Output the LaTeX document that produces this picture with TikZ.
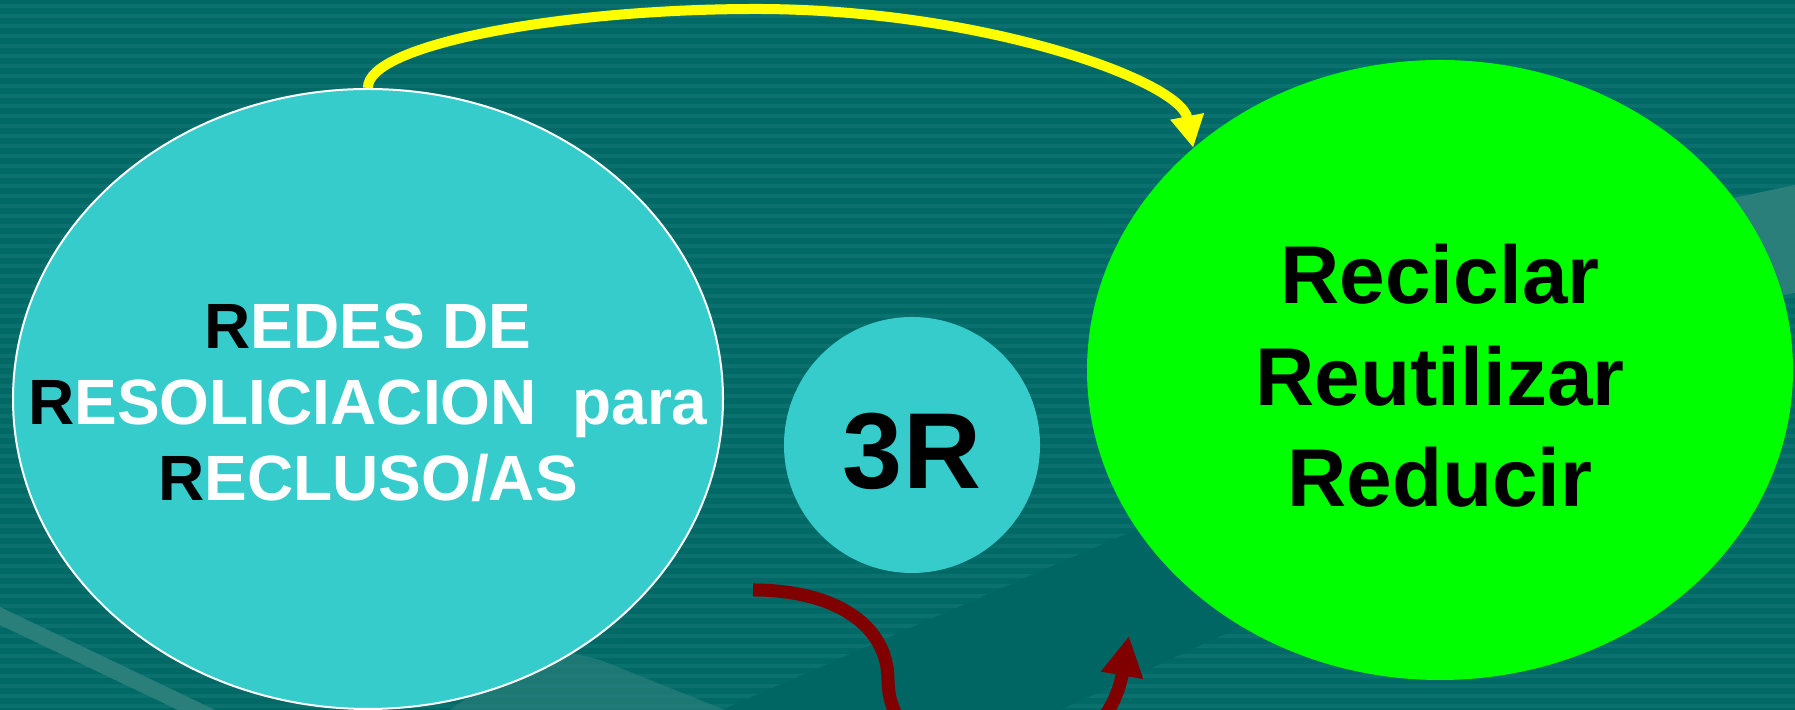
\documentclass[tikz,border=0pt]{standalone}
\usepackage{fontspec}
\setmainfont{Liberation Sans}
\usetikzlibrary{shapes.geometric}
\usetikzlibrary{arrows.meta}
\usetikzlibrary{calc}

\definecolor{fondo}{HTML}{006966}
\definecolor{fondooscuro}{HTML}{006664}
\definecolor{raya}{HTML}{0A716E}
\definecolor{claro}{HTML}{2A7F7B}
\definecolor{turquesa}{HTML}{36CCCC}
\definecolor{verde}{HTML}{00FF00}
\definecolor{granate}{HTML}{800000}
\definecolor{amarillo}{HTML}{FFFF00}

\newcommand{\Rnegra}{\textcolor{black}{R}}

\begin{document}
\begin{tikzpicture}[x=0.5pt,y=0.5pt]
        \tikzstyle{burbuja}=[ellipse, fill=turquesa, inner sep=0pt]
        \tikzstyle{texto}=[align=center, inner sep=0pt, font=\bfseries]
        \tikzstyle{flechaamarilla}=[draw=amarillo, line width=5pt, -{Triangle[width=16pt,length=16pt]}, amarillo]
        \tikzstyle{flechagranate}=[draw=granate, line width=6.5pt, -{Triangle[width=20pt,length=20pt]}, granate]
        \useasboundingbox (0,0) rectangle (1795,710);
        \clip (0,0) rectangle (1795,710);
        % fondo con rayas
        \fill[fondo] (0,0) rectangle (1795,710);
        \foreach \y in {2,12,...,702} \fill[raya] (0,\y) rectangle (1795,\y+4);
        \fill[fondooscuro] (722,0) -- (1450,317) -- (1500,203) -- (1060,0) -- cycle;
        \fill[claro] (0,103) -- (215,0) -- (178,0) -- (0,85) -- cycle;
        \fill[claro, opacity=.7] (540,65) -- (600,50) -- (725,0) -- (450,0) -- cycle;
        \fill[claro] (1700,505) -- (1795,525) -- (1795,417) -- (1700,400) -- cycle;
        % nodos
        \node[burbuja, draw=white, line width=1pt, minimum width=355pt, minimum height=310pt] (redes) at (368,311) {};
        \node[burbuja, minimum width=128pt, minimum height=128pt] (tresr) at (912,265) {};
        \node[ellipse, fill=verde, inner sep=0pt, minimum width=353pt, minimum height=310pt] (reciclar) at (1440,340) {};
        \node[texto, yshift=-2pt, text=white, font=\bfseries\fontsize{32}{38}\selectfont] at (redes) {\Rnegra EDES DE\\ \Rnegra ESOLICIACION\ \ para\\ \Rnegra ECLUSO/AS};
        \node[texto, yshift=-3pt, font=\bfseries\fontsize{54}{60}\selectfont] at (tresr) {3R};
        \node[texto, yshift=-3pt, font=\bfseries\fontsize{41}{50.7}\selectfont] at (reciclar) {Reciclar\\ Reutilizar\\ Reducir};
        % flechas
        \coordinate (inicio) at (753,120);
        \coordinate (fin) at (1129,74);
        \draw[flechaamarilla] (redes.north) .. controls (366,665) and (560,701) .. (756,701) .. controls (980,701) and (1180,630) .. (reciclar.138);
        \draw[flechagranate] (inicio) .. controls (835,120) and (888,85) .. (888,30) .. controls (888,-80) and (1100,-90) .. (fin);
\end{tikzpicture}
\end{document}
